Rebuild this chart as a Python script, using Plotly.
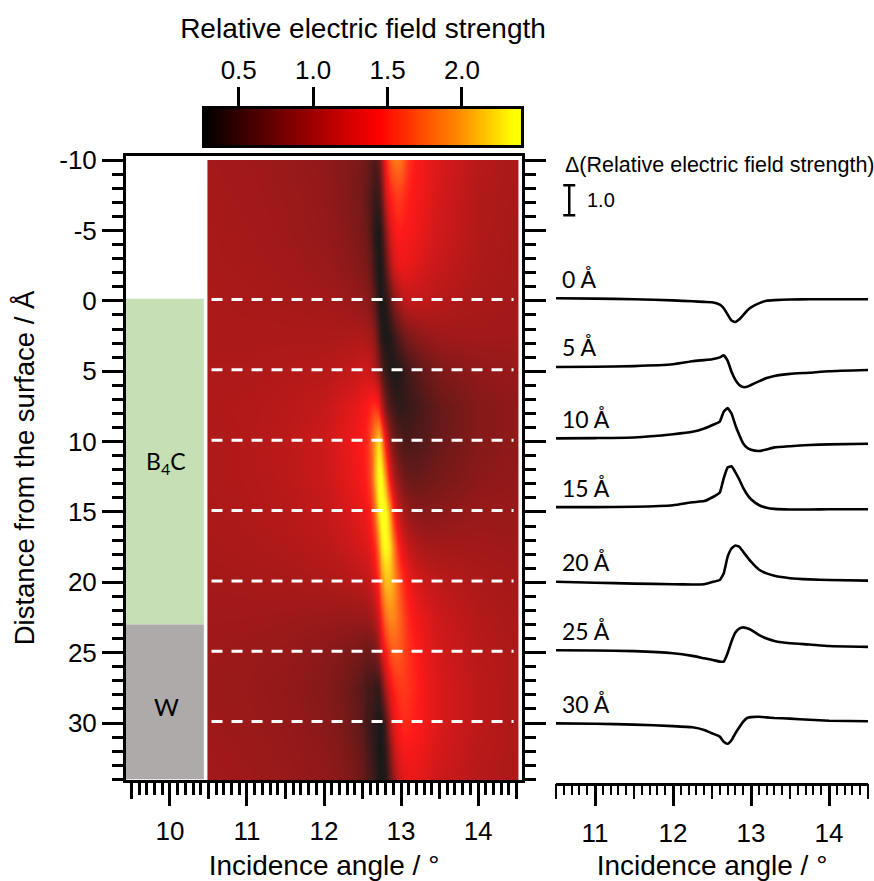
import plotly.graph_objects as go

W, H = 874, 881
ANGLES = [10.49,11,11.5,12,12.25,12.4,12.5,12.55,12.6,12.65,12.7,12.75,12.8,12.85,12.9,12.95,13,13.05,13.1,13.2,13.3,13.5,14,14.52]
DEPTHS = [-10,-7.5,-5,-2.5,0,2.5,5,7.5,10,12.5,15,17.5,20,22.5,25,27.5,30,32,34]
FIELD = [
[.98,.96,.93,.88,.82,.78,.74,.70,.62,.55,.65,.95,1.45,1.7,1.82,1.85,1.8,1.7,1.55,1.42,1.36,1.25,1.08,1.0],
[.99,.97,.94,.89,.83,.78,.72,.65,.55,.43,.45,.70,1.2,1.45,1.55,1.6,1.58,1.52,1.47,1.4,1.35,1.22,1.05,1.0],
[1.0,.98,.95,.90,.85,.80,.74,.68,.55,.35,.28,.42,.85,1.2,1.38,1.45,1.45,1.43,1.42,1.37,1.3,1.2,1.05,.98],
[1.0,.99,.97,.93,.88,.84,.80,.75,.65,.42,.27,.30,.60,.95,1.2,1.3,1.35,1.35,1.33,1.28,1.22,1.15,1.03,.98],
[1.02,1.0,.99,.97,.95,.92,.88,.85,.78,.6,.32,.27,.33,.55,.8,.95,1.05,1.1,1.13,1.13,1.12,1.07,1.0,.97],
[1.02,1.02,1.02,1.02,1.02,1.03,1.03,1.0,.97,.85,.55,.32,.27,.30,.42,.55,.65,.72,.78,.85,.9,.95,.97,.96],
[1.03,1.03,1.05,1.07,1.12,1.15,1.2,1.2,1.15,1.05,.85,.6,.42,.32,.28,.30,.35,.42,.48,.58,.66,.78,.88,.92],
[1.04,1.05,1.08,1.15,1.25,1.3,1.38,1.42,1.5,1.55,1.45,1.1,.75,.55,.45,.40,.38,.40,.42,.48,.55,.67,.82,.88],
[1.03,1.05,1.1,1.18,1.3,1.38,1.45,1.52,1.7,2.0,2.25,2.0,1.4,.98,.75,.62,.55,.52,.52,.55,.58,.68,.82,.88],
[1.03,1.05,1.09,1.18,1.28,1.35,1.42,1.5,1.65,2.05,2.38,2.35,1.95,1.4,1.05,.88,.78,.72,.68,.67,.70,.75,.85,.9],
[1.02,1.04,1.07,1.14,1.22,1.28,1.33,1.4,1.5,1.78,2.25,2.4,2.38,2.05,1.5,1.2,1.05,.97,.9,.85,.83,.85,.92,.92],
[1.0,1.02,1.04,1.09,1.15,1.2,1.24,1.28,1.35,1.5,1.85,2.25,2.36,2.25,1.9,1.55,1.35,1.25,1.15,1.05,1.0,.98,.97,.95],
[.98,.99,1.0,1.02,1.05,1.08,1.1,1.12,1.18,1.3,1.55,1.9,2.12,2.12,2.0,1.8,1.6,1.5,1.38,1.25,1.18,1.1,1.02,.98],
[.96,.96,.95,.93,.92,.92,.92,.93,.97,1.05,1.25,1.55,1.82,1.92,1.92,1.82,1.7,1.6,1.5,1.38,1.3,1.18,1.06,1.0],
[.95,.93,.91,.85,.80,.76,.72,.68,.68,.72,.9,1.2,1.45,1.65,1.72,1.72,1.68,1.62,1.55,1.45,1.35,1.22,1.08,1.02],
[.94,.92,.89,.82,.74,.66,.58,.48,.5,.42,.42,.65,1.05,1.3,1.48,1.55,1.58,1.58,1.55,1.48,1.38,1.25,1.1,1.02],
[.95,.93,.9,.84,.77,.68,.58,.48,.42,.36,.27,.28,.55,1.0,1.28,1.42,1.5,1.52,1.5,1.45,1.38,1.25,1.1,1.02],
[.96,.94,.91,.86,.8,.72,.64,.54,.45,.36,.27,.26,.4,.75,1.1,1.28,1.36,1.4,1.4,1.38,1.33,1.22,1.08,1.02],
[.97,.95,.92,.88,.82,.75,.68,.58,.5,.42,.30,.26,.32,.6,.9,1.12,1.25,1.3,1.33,1.33,1.28,1.18,1.07,1.02],
]
CUT_ANGLES = [10.5,11,11.5,12,12.25,12.4,12.5,12.6,12.65,12.7,12.75,12.8,12.85,12.9,12.95,13,13.1,13.2,13.3,13.5,13.75,14,14.5]
CUT_LABELS = ["0 Å","5 Å","10 Å","15 Å","20 Å","25 Å","30 Å"]
CUT_DEPTHS = [0,5,10,15,20,25,30]
CUT_OFFSETS = [0,-2.29,-4.67,-6.96,-9.45,-11.73,-14.17]
DELTA_0 = [0,-.01,-.03,-.07,-.10,-.12,-.13,-.21,-.33,-.54,-.74,-.79,-.70,-.56,-.41,-.30,-.17,-.08,-.06,-.04,-.03,-.03,-.03]
DELTA_5 = [0,.01,.03,.09,.19,.23,.26,.32,.39,.21,-.16,-.43,-.60,-.67,-.66,-.60,-.48,-.37,-.30,-.23,-.19,-.14,-.10]
DELTA_10 = [0,.01,.03,.14,.22,.33,.44,.56,.89,1.01,.83,.44,.11,-.17,-.31,-.38,-.42,-.37,-.30,-.26,-.22,-.20,-.18]
DELTA_15 = [0,0,.01,.06,.16,.20,.32,.49,.96,1.32,1.36,1.16,.92,.64,.42,.26,.07,-.02,-.06,-.08,-.08,-.07,-.07]
DELTA_20 = [0,-.03,-.06,-.08,-.09,-.08,-.01,.06,.28,.83,1.11,1.21,1.17,1.00,.83,.67,.41,.28,.20,.12,.08,.06,.04]
DELTA_25 = [0,-.01,-.03,-.10,-.19,-.27,-.32,-.38,-.38,-.10,.29,.59,.72,.76,.73,.68,.51,.39,.31,.23,.19,.14,.11]
DELTA_30 = [0,-.01,-.04,-.09,-.13,-.22,-.33,-.44,-.61,-.68,-.56,-.33,-.13,.06,.18,.21,.22,.20,.18,.16,.12,.09,.07]
DELTAS = [DELTA_0,DELTA_5,DELTA_10,DELTA_15,DELTA_20,DELTA_25,DELTA_30]
KEY_LEVELS = [0.26,0.5,0.75,1.0,1.25,1.44,1.7,1.95,2.2,2.35,2.41]
KEY_TICKS = [0.5,1.0,1.5,2.0]
DEPTH_TICKS = [-10,-5,0,5,10,15,20,25,30]
DEPTH_TICK_TEXT = ["-10","-5","0","5","10","15","20","25","30"]

FONT = "Liberation Sans"
CALIBRI = "Lato"
SCALE = [[0,"#000000"],[0.55,"#ff0000"],[0.78,"#ff8000"],[0.97,"#ffff00"],[1,"#ffff00"]]
def xd(a, b): return [a / W, b / W]
def yd(top, bottom): return [1 - bottom / H, 1 - top / H]
hx = [ANGLES[0]-0.002] + ANGLES + [ANGLES[-1]+0.002]
hy = [DEPTHS[0]-0.01] + DEPTHS + [DEPTHS[-1]+0.01]
hz = [[r[0]] + r + [r[-1]] for r in [FIELD[0]] + FIELD + [FIELD[-1]]]

fig = go.Figure()
fig.add_trace(go.Heatmap(x=hx, y=hy, z=hz, zmin=0.26, zmax=2.41, zsmooth="best", opacity=0.9, showscale=False,
    colorscale=SCALE, xaxis="x", yaxis="y", hoverinfo="skip"))
fig.add_trace(go.Heatmap(x=KEY_LEVELS, y=[0,1], z=[KEY_LEVELS,KEY_LEVELS], zmin=0.26, zmax=2.41, zsmooth="best", showscale=False,
    colorscale=SCALE, xaxis="x2", yaxis="y2", hoverinfo="skip"))
fig.add_trace(go.Bar(x=[9.935], y=[23.15], base=[-0.15], width=[1.01], marker=dict(color="#C6DFB4", line_width=0), xaxis="x", yaxis="y", showlegend=False, hoverinfo="skip"))
fig.add_trace(go.Bar(x=[9.935], y=[11], base=[23], width=[1.01], marker=dict(color="#AEAAAA", line_width=0), xaxis="x", yaxis="y", showlegend=False, hoverinfo="skip"))
for d in CUT_DEPTHS:
    fig.add_trace(go.Scatter(x=[10.54,14.46], y=[d-0.1,d-0.1], mode="lines", line=dict(color="white", width=3, dash="11px,9px"),
        xaxis="x", yaxis="y", showlegend=False, hoverinfo="skip"))
for vals, off in zip(DELTAS, CUT_OFFSETS):
    fig.add_trace(go.Scatter(x=CUT_ANGLES, y=[v+off for v in vals], mode="lines", line=dict(color="black", width=2.6, shape="spline", smoothing=0.4),
        xaxis="x3", yaxis="y3", showlegend=False, hoverinfo="skip"))
fig.add_trace(go.Scatter(x=[10.67], y=[3.27], mode="markers", marker=dict(size=1, color="black"),
    error_y=dict(type="constant", value=0.5, thickness=2.5, width=6, color="black"),
    xaxis="x3", yaxis="y3", showlegend=False, hoverinfo="skip"))
fig.add_trace(go.Scatter(x=[None], y=[None], xaxis="x4", yaxis="y", showlegend=False))
fig.add_trace(go.Scatter(x=[None], y=[None], xaxis="x5", yaxis="y3", showlegend=False))

TICKF = dict(family=FONT, size=26, color="black")
TITLEF = dict(family=FONT, size=28, color="black")
TITLEY = dict(family=FONT, size=27.5, color="black")
axcommon = dict(showgrid=False, zeroline=False, ticks="outside", tickcolor="black", tickwidth=2.5, linecolor="black", tickfont=TICKF)
fig.update_layout(
    width=W, height=H, margin=dict(l=0, r=0, t=0, b=0, autoexpand=False), paper_bgcolor="white", plot_bgcolor="rgba(0,0,0,0)", barmode="overlay",
    xaxis=dict(domain=xd(126,522), range=[9.43,14.57], anchor="y", showline=True, linewidth=3, mirror=True,
        tick0=10, dtick=1, ticklen=23, ticklabelstandoff=3,
        minor=dict(dtick=0.1, tick0=10, ticks="outside", ticklen=12, tickwidth=2.5, tickcolor="black"),
        title=dict(text="Incidence angle / °", standoff=15, font=TITLEF), **axcommon),
    yaxis=dict(domain=yd(156,780), range=[34.05,-10.3], anchor="x", showline=True, linewidth=3, mirror="ticks",
        tickmode="array", tickvals=DEPTH_TICKS, ticktext=DEPTH_TICK_TEXT, ticklen=21,
        minor=dict(dtick=1, tick0=-10, ticks="outside", ticklen=11, tickwidth=2.5, tickcolor="black"),
        title=dict(text="Distance from the surface / Å", standoff=17, font=TITLEY), **axcommon),
    xaxis2=dict(domain=xd(205,521), range=[0.26+ (205-203)/149.3,2.41-(523-521)/149.3], anchor="y2", side="top", showline=True, linewidth=3, mirror=True,
        tickmode="array", tickvals=KEY_TICKS, ticktext=["0.5","1.0","1.5","2.0"], ticklen=19, ticklabelstandoff=-2,
        title=dict(text="Relative electric field strength", standoff=8, font=TITLEF), **axcommon),
    yaxis2=dict(domain=yd(109,145), range=[0,1], anchor="x2", showline=True, linewidth=3, mirror=True, ticks="", showticklabels=False, showgrid=False, zeroline=False, linecolor="black"),
    xaxis4=dict(overlaying="x", domain=xd(126,522), range=[9.43,14.57], anchor="y", side="bottom", tick0=9.5, dtick=1, ticklen=18,
        showticklabels=False, showline=False, showgrid=False, zeroline=False, ticks="outside", tickwidth=2.5, tickcolor="black"),
    xaxis3=dict(domain=xd(556,868), range=[10.5,14.5], anchor="y3", showline=True, linewidth=2.5,
        tick0=11, dtick=1, ticklen=20, ticklabelstandoff=5,
        minor=dict(dtick=0.1, tick0=11, ticks="outside", ticklen=9, tickwidth=2.2, tickcolor="black"),
        title=dict(text="Incidence angle / °", standoff=13, font=TITLEF), **axcommon),
    yaxis3=dict(domain=yd(150,783), range=[(298.3-783)/30,(298.3-150)/30], anchor="x3", visible=False),
    xaxis5=dict(overlaying="x3", domain=xd(556,868), range=[10.5,14.5], anchor="y3", side="bottom", tick0=10.5, dtick=1, ticklen=15,
        showticklabels=False, showline=False, showgrid=False, zeroline=False, ticks="outside", tickwidth=2.2, tickcolor="black"),
    font=dict(family=FONT, color="black"),
)
fig.add_annotation(x=9.95, y=11.5, xref="x", yref="y", text="B<sub>4</sub>C", showarrow=False, font=dict(family=CALIBRI, size=23, color="black"))
fig.add_annotation(x=9.95, y=28.8, xref="x", yref="y", text="W", showarrow=False, font=dict(family=CALIBRI, size=24, color="black"))
fig.add_annotation(x=563/W, y=1-165/H, xref="paper", yref="paper", xanchor="left", yanchor="middle", text="Δ(Relative electric field strength)", showarrow=False, font=dict(family=FONT, size=21.5, color="black"))
fig.add_annotation(x=10.87, y=3.27, xref="x3", yref="y3", xanchor="left", text="1.0", showarrow=False, font=dict(family=FONT, size=20, color="black"))
for lab, off in zip(CUT_LABELS, CUT_OFFSETS):
    fig.add_annotation(x=10.55, y=off+0.65, xref="x3", yref="y3", xanchor="left", text=lab, showarrow=False, font=dict(family=CALIBRI, size=23, color="black"))
fig.write_html("out.html", config={"displayModeBar": False}, post_script="document.body.style.margin='0';document.documentElement.style.overflow='hidden';")
